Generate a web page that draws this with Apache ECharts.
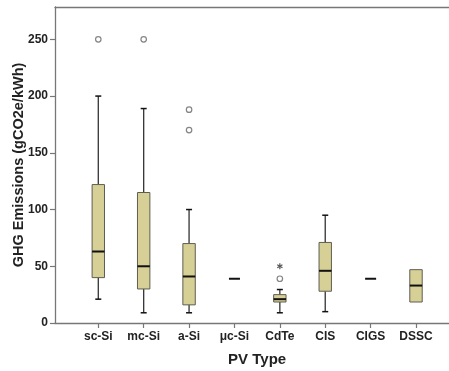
<!DOCTYPE html>
<html>
<head>
<meta charset="utf-8">
<script src="https://cdn.jsdelivr.net/npm/echarts@6/dist/echarts.min.js"></script>
<style>
  html, body { margin: 0; padding: 0; background: #fff; }
  #chart { width: 449px; height: 371px; }
</style>
</head>
<body>
<div id="chart"></div>
<script>
// PV life-cycle GHG emissions by technology (box plot summary)
const categories = ['sc-Si', 'mc-Si', 'a-Si', 'μc-Si', 'CdTe', 'CIS', 'CIGS', 'DSSC'];
const whiskerLow  = [21, 9, 9, 39, 9, 10, 39, 18.5];
const q1          = [40, 30, 16, 39, 18.5, 28, 39, 18.5];
const median      = [63, 50, 41, 39, 21, 46, 39, 33];
const q3          = [122, 115, 70, 39, 25, 71, 39, 47];
const whiskerHigh = [200, 189, 100, 39, 29.5, 95, 39, 47];
// [category index, value]
const outliers = [[0, 250], [1, 250], [2, 188], [2, 170], [4, 39]];
const extremes = [[4, 50]];
const yTicks = [0, 50, 100, 150, 200, 250];
const yMax = 278.5;

const boxData = categories.map((c, i) => [i, whiskerLow[i], q1[i], median[i], q3[i], whiskerHigh[i]]);

const BOX_W = 12.4, CAP_W = 6, SINGLE_W = 11;
const FILL = '#d7d096', EDGE = '#5e5d50', WHISK = '#333333', FRAME = '#777777';

function renderBox(params, api) {
  const i = api.value(0);
  const lo = api.value(1), a = api.value(2), m = api.value(3), b = api.value(4), hi = api.value(5);
  const pm = api.coord([i, m]);
  const x = pm[0];
  const children = [];
  if (a === b) {
    children.push({ type: 'line', shape: { x1: x - SINGLE_W / 2, y1: pm[1], x2: x + SINGLE_W / 2, y2: pm[1] },
      style: { stroke: '#111', lineWidth: 2 } });
    return { type: 'group', children };
  }
  const yLo = api.coord([i, lo])[1], yA = api.coord([i, a])[1];
  const yB = api.coord([i, b])[1], yHi = api.coord([i, hi])[1];
  if (lo < a) {
    children.push({ type: 'line', shape: { x1: x, y1: yA, x2: x, y2: yLo }, style: { stroke: WHISK, lineWidth: 1.3 } });
    children.push({ type: 'line', shape: { x1: x - CAP_W / 2, y1: yLo, x2: x + CAP_W / 2, y2: yLo }, style: { stroke: '#111', lineWidth: 1.5 } });
  }
  if (hi > b) {
    children.push({ type: 'line', shape: { x1: x, y1: yB, x2: x, y2: yHi }, style: { stroke: WHISK, lineWidth: 1.3 } });
    children.push({ type: 'line', shape: { x1: x - CAP_W / 2, y1: yHi, x2: x + CAP_W / 2, y2: yHi }, style: { stroke: '#111', lineWidth: 1.5 } });
  }
  children.push({ type: 'rect', shape: { x: x - BOX_W / 2, y: yB, width: BOX_W, height: yA - yB },
    style: { fill: FILL, stroke: EDGE, lineWidth: 1 } });
  children.push({ type: 'line', shape: { x1: x - BOX_W / 2, y1: pm[1], x2: x + BOX_W / 2, y2: pm[1] },
    style: { stroke: '#111', lineWidth: 2 } });
  return { type: 'group', children };
}

function renderStar(params, api) {
  const p = api.coord([api.value(0), api.value(1)]);
  const r = 3;
  const lines = [];
  for (let k = 0; k < 3; k++) {
    const ang = Math.PI / 2 + k * Math.PI / 3;
    const dx = Math.cos(ang) * r, dy = Math.sin(ang) * r;
    lines.push({ type: 'line', shape: { x1: p[0] - dx, y1: p[1] - dy, x2: p[0] + dx, y2: p[1] + dy },
      style: { stroke: '#555', lineWidth: 1.2 } });
  }
  return { type: 'group', children: lines };
}

const chart = echarts.init(document.getElementById('chart'), null, { renderer: 'canvas' });
chart.setOption({
  animation: false,
  backgroundColor: '#fff',
  grid: [
    { left: 75.6, right: 10.3, top: 7, bottom: 48, outerBoundsMode: 'none' },
    { left: 55, right: -10, top: 7, bottom: 48, outerBoundsMode: 'none' }
  ],
  xAxis: [
    {
      type: 'category', gridIndex: 0, data: categories,
      axisLine: { show: false },
      axisTick: { show: true, alignWithLabel: true, length: 5, lineStyle: { color: FRAME, width: 1.2 } },
      axisLabel: { color: '#222', fontFamily: 'Liberation Sans', fontWeight: 'bold', fontSize: 12, margin: 8 },
      name: 'PV Type', nameLocation: 'middle', nameGap: 29, nameMoveOverlap: false,
      nameTextStyle: { color: '#222', fontFamily: 'Liberation Sans', fontWeight: 'bold', fontSize: 15 }
    },
    {
      type: 'value', gridIndex: 1, min: 0, max: 1, position: 'bottom',
      axisLine: { show: true, onZero: false, lineStyle: { color: FRAME, width: 1.3 } },
      axisTick: { show: false }, axisLabel: { show: false }, splitLine: { show: false }
    },
    {
      type: 'value', gridIndex: 1, min: 0, max: 1, position: 'top',
      axisLine: { show: true, onZero: false, lineStyle: { color: FRAME, width: 1.3 } },
      axisTick: { show: false }, axisLabel: { show: false }, splitLine: { show: false }
    }
  ],
  yAxis: [
    { type: 'value', gridIndex: 0, min: 0, max: yMax, show: false },
    {
      type: 'value', gridIndex: 1, min: 0, max: yMax, position: 'left',
      axisLine: { show: true, lineStyle: { color: FRAME, width: 1.3 } },
      axisTick: { show: true, length: 5, customValues: yTicks, lineStyle: { color: FRAME, width: 1.2 } },
      axisLabel: { customValues: yTicks, color: '#222', fontFamily: 'Liberation Sans', fontWeight: 'bold', fontSize: 12, margin: 7 },
      splitLine: { show: false },
      name: 'GHG Emissions (gCO2e/kWh)', nameLocation: 'middle', nameGap: 29, nameMoveOverlap: false,
      nameTextStyle: { color: '#222', fontFamily: 'Liberation Sans', fontWeight: 'bold', fontSize: 14.5 }
    }
  ],
  series: [
    {
      type: 'custom', xAxisIndex: 0, yAxisIndex: 0,
      renderItem: renderBox, data: boxData,
      encode: { x: 0, y: [1, 2, 3, 4, 5] }
    },
    {
      type: 'scatter', xAxisIndex: 0, yAxisIndex: 0,
      data: outliers, symbol: 'circle', symbolSize: 5.5,
      itemStyle: { color: '#fff', borderColor: '#666', borderWidth: 1.2 }
    },
    {
      type: 'custom', xAxisIndex: 0, yAxisIndex: 0,
      renderItem: renderStar, data: extremes
    }
  ]
});
</script>
</body>
</html>
